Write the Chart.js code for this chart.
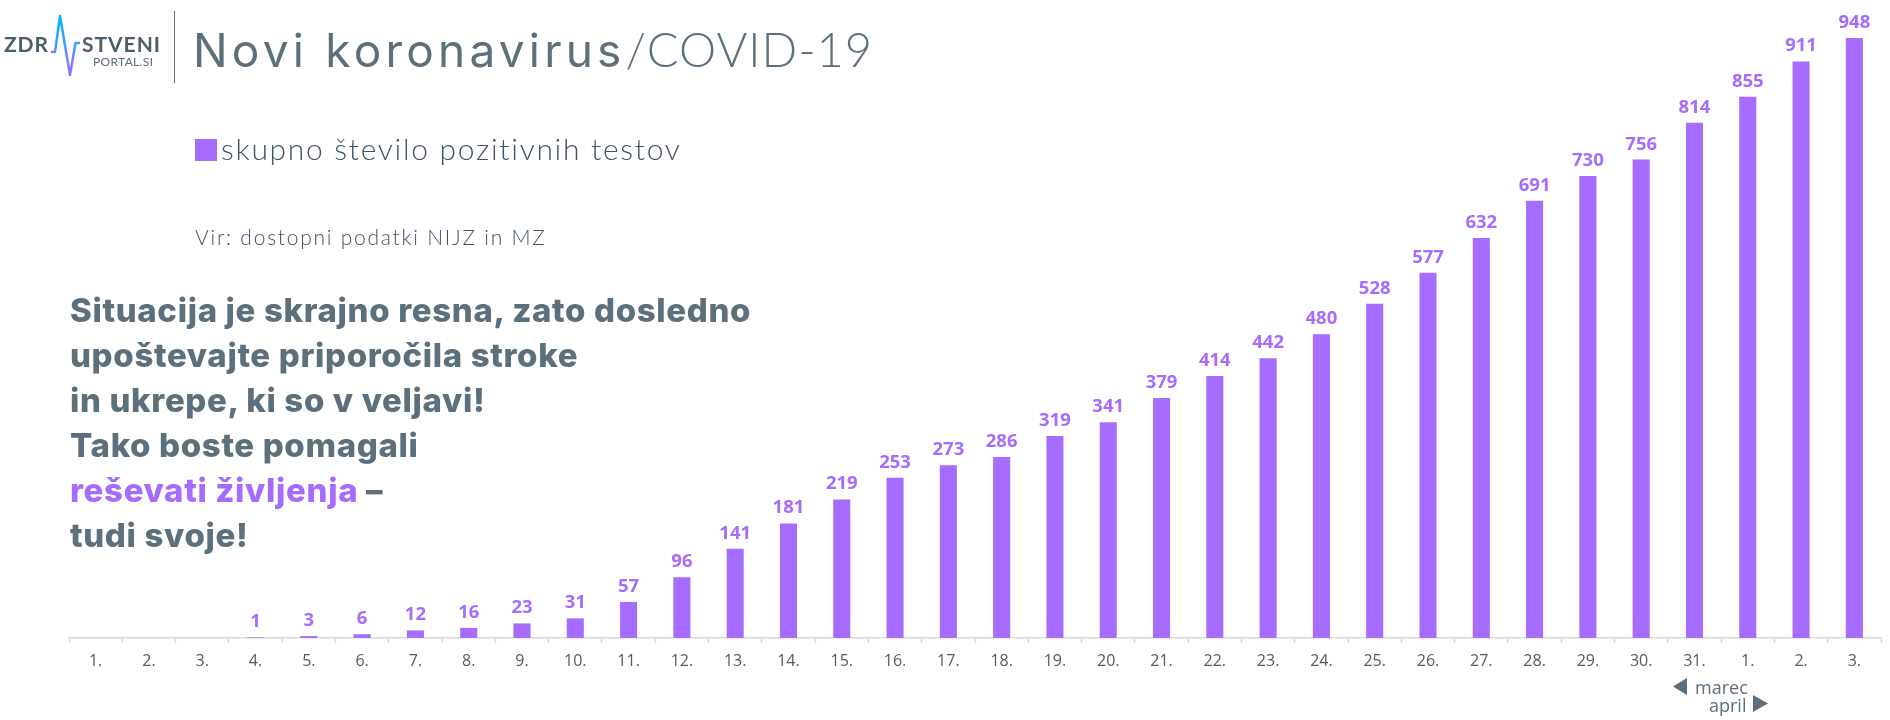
<!DOCTYPE html>
<html lang="sl">
<head>
<meta charset="utf-8">
<title>Novi koronavirus/COVID-19</title>
<script src="https://cdn.jsdelivr.net/npm/chart.js@4"></script>
<style>
    html, body { margin: 0; padding: 0; background: #fff; }
    #wrap { position: relative; width: 1890px; height: 720px; overflow: hidden; font-family: Lato, sans-serif; }
    #wrap canvas { position: absolute; left: 0; top: 0; }
    .txt { position: absolute; white-space: nowrap; }
    #title { left: 193px; top: 19px; font-size: 46px; line-height: 60px; color: #5c6f7c; font-family: Inter, sans-serif; letter-spacing: 4.2px; }
    #title span { font-family: Lato, sans-serif; font-weight: 300; font-size: 47px; letter-spacing: 1px; }
    #legendBox { position: absolute; left: 195px; top: 139px; width: 22px; height: 22px; background: #a66bff; }
    #legendText { left: 221px; top: 128px; font-size: 30px; line-height: 40px; font-weight: 300; color: #3f5566; letter-spacing: 1.7px; }
    #source { left: 195px; top: 223px; font-size: 21px; line-height: 28px; font-weight: 300; color: #3f5566; letter-spacing: 1.75px; }
    #message { left: 70px; top: 288px; font-size: 33px; line-height: 45px; font-weight: 800; font-family: Inter, sans-serif; color: #5c6f7c; letter-spacing: .65px; }
    #message em { font-style: normal; color: #a66bff; }
    .month { font-size: 18px; line-height: 20px; color: #5c6f7c; font-family: "Open Sans", sans-serif; }
</style>
</head>
<body>
<div id="wrap">
    <canvas id="casesChart" width="1890" height="720"></canvas>

    <!-- logo -->
    <svg class="txt" style="left:0;top:0" width="180" height="90">
        <defs>
            <linearGradient id="pulse" gradientUnits="userSpaceOnUse" x1="0" y1="16" x2="0" y2="75">
                <stop offset="0" stop-color="#00b4ff"/>
                <stop offset="0.45" stop-color="#3fa0ff"/>
                <stop offset="1" stop-color="#a66bff"/>
            </linearGradient>
        </defs>
        <text x="4" y="52" font-family="Lato" font-size="21" font-weight="700" fill="#4a5f6e" textLength="44">ZDR</text>
        <text x="82" y="52" font-family="Lato" font-size="21" font-weight="700" fill="#4a5f6e" textLength="78">STVENI</text>
        <text x="93" y="66" font-family="Lato" font-size="12" fill="#5c6f7c" textLength="60">PORTAL.SI</text>
        <polyline points="52,52 55,52 60,16 70,75 75.5,43 79,43" fill="none" stroke="url(#pulse)" stroke-width="2.5" stroke-linejoin="round" stroke-linecap="round"/>
        <line x1="174.5" y1="11" x2="174.5" y2="83" stroke="#5c6f7c" stroke-width="1"/>
    </svg>

    <div class="txt" id="title">Novi koronavirus<span>/COVID-19</span></div>
    <div id="legendBox"></div>
    <div class="txt" id="legendText">skupno število pozitivnih testov</div>
    <div class="txt" id="source">Vir: dostopni podatki NIJZ in MZ</div>
    <div class="txt" id="message">Situacija je skrajno resna, zato dosledno<br>upoštevajte priporočila stroke<br>in ukrepe, ki so v veljavi!<br>Tako boste pomagali<br><em>reševati življenja</em> –<br>tudi svoje!</div>

    <!-- month markers -->
    <svg class="txt" style="left:1673px;top:678px" width="15" height="18"><polygon points="14,0 14,17 0,8.5" fill="#5c6f7c"/></svg>
    <div class="txt month" style="left:1695px;top:677px">marec</div>
    <div class="txt month" style="left:1709px;top:695px">april</div>
    <svg class="txt" style="left:1753px;top:695px" width="16" height="18"><polygon points="0,0 0,17 15,8.5" fill="#5c6f7c"/></svg>
</div>

<script>
const dayLabels = ["1.","2.","3.","4.","5.","6.","7.","8.","9.","10.","11.","12.","13.","14.","15.","16.","17.","18.","19.","20.","21.","22.","23.","24.","25.","26.","27.","28.","29.","30.","31.","1.","2.","3."];
const positiveTests = [0,0,0,1,3,6,12,16,23,31,57,96,141,181,219,253,273,286,319,341,379,414,442,480,528,577,632,691,730,756,814,855,911,948];

const PURPLE = '#a66bff';

// value labels above each bar
const barLabels = {
    id: 'barLabels',
    afterDatasetsDraw(chart) {
        const ctx = chart.ctx;
        const bars = chart.getDatasetMeta(0).data;
        ctx.save();
        ctx.font = "bold 18.5px 'Open Sans', sans-serif";
        ctx.fillStyle = PURPLE;
        ctx.textAlign = 'center';
        ctx.textBaseline = 'alphabetic';
        bars.forEach((bar, i) => {
            if (!positiveTests[i]) return;
            ctx.fillText(positiveTests[i], bar.x, bar.y - 10);
        });
        ctx.restore();
    }
};

new Chart(document.getElementById('casesChart'), {
    type: 'bar',
    data: {
        labels: dayLabels,
        datasets: [{
            label: 'skupno število pozitivnih testov',
            data: positiveTests,
            backgroundColor: PURPLE,
            barPercentage: 0.32,
            categoryPercentage: 1
        }]
    },
    options: {
        responsive: false,
        animation: false,
        layout: { padding: { left: 69, right: 9, top: 0, bottom: 0 } },
        plugins: { legend: { display: false }, tooltip: { enabled: false } },
        scales: {
            x: {
                afterFit(scale) { scale.height = 82; },
                border: { color: '#d9d9d9', width: 1.5 },
                grid: { drawOnChartArea: false, tickLength: 5, color: '#d9d9d9', tickWidth: 1.5 },
                ticks: {
                    color: '#595959',
                    maxRotation: 0,
                    autoSkip: false,
                    padding: 9,
                    font: { family: "'Open Sans', sans-serif", size: 16 }
                }
            },
            y: { display: false, min: 0, max: 1008 }
        }
    },
    plugins: [barLabels]
});
</script>
</body>
</html>
